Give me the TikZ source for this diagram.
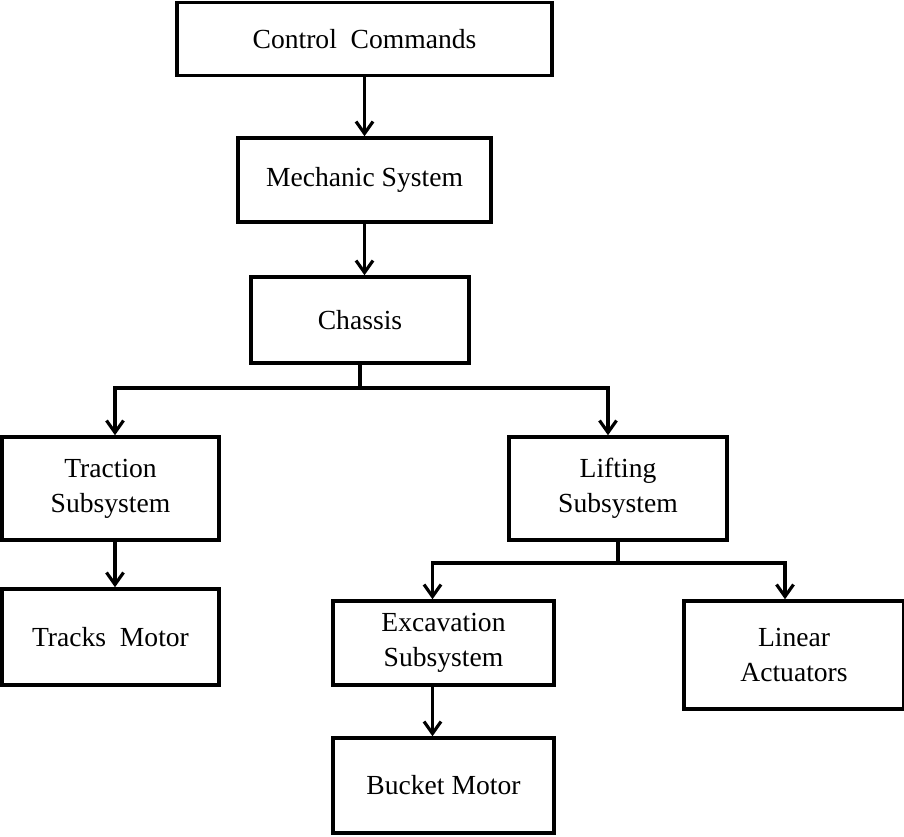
\documentclass[tikz,border=0pt]{standalone}
\usepackage{fontspec}
\setmainfont{Liberation Serif}
\usetikzlibrary{positioning,calc,arrows.meta}

\tikzset{
    blockbox/.style={draw, line width=2pt, align=center, inner sep=2pt,
        font=\fontsize{15.7}{20}\selectfont},
    flow/.style={line width=1.8pt, -{Straight Barb[length=2.4mm,width=3.4mm,line width=1.8pt]}},
    link/.style={line width=1.8pt}
}

\begin{document}
\begin{tikzpicture}
    \useasboundingbox (0,0) rectangle (18.08,-16.72);

    % top chain
    \node[blockbox, minimum width=7.5cm, minimum height=1.46cm] (cmd) at (7.29,-0.78) {Control\ \ Commands};
    \node[blockbox, minimum width=5.06cm, minimum height=1.68cm] (mech) at (7.29,-3.6) {Mechanic System};
    \node[blockbox, minimum width=4.36cm, minimum height=1.72cm] (chassis) at (7.2,-6.4) {Chassis};

    % subsystems
    \node[blockbox, minimum width=4.34cm, minimum height=2.06cm] (traction) at (2.21,-9.77) {Traction\\Subsystem};
    \node[blockbox, minimum width=4.36cm, minimum height=2.06cm] (lifting) at (12.36,-9.77) {Lifting\\Subsystem};
    \node[blockbox, minimum width=4.34cm, minimum height=1.92cm] (tracks) at (2.21,-12.74) {Tracks\ \ Motor};
    \node[blockbox, minimum width=4.42cm, minimum height=1.68cm] (excav) at (8.87,-12.86) {Excavation\\Subsystem};
    \node[blockbox, minimum width=4.4cm, minimum height=2.16cm] (linear) at (15.88,-13.1) {Linear\\Actuators};
    \node[blockbox, minimum width=4.42cm, minimum height=1.9cm] (bucket) at (8.87,-15.71) {Bucket Motor};

    \draw[flow] (cmd) -- (mech);
    \draw[flow] (mech.south -| cmd.south) -- (chassis.north -| cmd.south);

    % chassis branch
    \coordinate (cj) at (7.2,-7.76);
    \draw[link] (chassis.south) -- (cj);
    \draw[flow] (cj) -| ([xshift=0.09cm]traction.north);
    \draw[flow] (cj) -| ([xshift=-0.2cm]lifting.north);

    % lifting branch
    \coordinate (lj) at (12.36,-11.26);
    \draw[link] (lifting.south) -- (lj);
    \draw[flow] (lj) -| ([xshift=-0.22cm]excav.north);
    \draw[flow] (lj) -| ([xshift=-0.18cm]linear.north);

    \draw[flow] ([xshift=0.09cm]traction.south) -- ([xshift=0.09cm]tracks.north);
    \draw[flow] ([xshift=-0.22cm]excav.south) -- ([xshift=-0.22cm]bucket.north);
\end{tikzpicture}
\end{document}
